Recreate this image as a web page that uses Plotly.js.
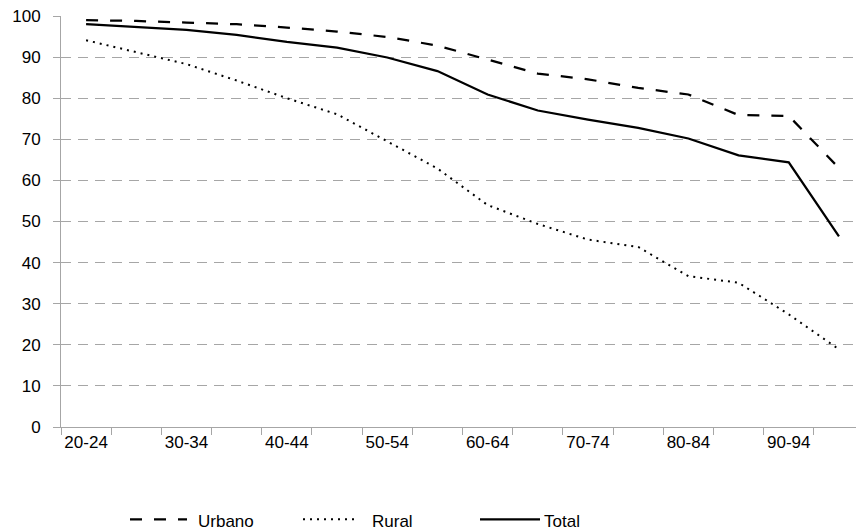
<!DOCTYPE html>
<html>
<head>
<meta charset="utf-8">
<script src="https://cdn.plot.ly/plotly-3.0.1.min.js"></script>
<style>html,body{margin:0;padding:0;background:#fff;}#chart{width:856px;height:531px;}</style>
</head>
<body>
<div id="chart"></div>
<script>
const categories = ["20-24","25-29","30-34","35-39","40-44","45-49","50-54","55-59","60-64","65-69","70-74","75-79","80-84","85-89","90-94","95-99"];
const urbano = [99.0, 98.8, 98.4, 98.0, 97.2, 96.2, 94.9, 92.8, 89.4, 86.0, 84.6, 82.5, 80.9, 75.9, 75.7, 63.0];
const rural  = [94.1, 91.2, 88.3, 84.3, 80.0, 76.1, 69.6, 62.9, 54.0, 49.4, 45.6, 43.8, 36.7, 35.1, 27.4, 18.9];
const total  = [98.05, 97.4, 96.6, 95.4, 93.7, 92.3, 89.9, 86.6, 80.9, 77.0, 74.8, 72.8, 70.2, 66.1, 64.4, 46.4];
const seriesNames = ["Urbano", "Rural", "Total"];
const yTicks = [0,10,20,30,40,50,60,70,80,90,100];

const W = 856, H = 531;
const M = {l: 61, r: 0, t: 16, b: 104.3};
const plotW = W - M.l - M.r, plotH = H - M.t - M.b;
const px = x => (x - M.l) / plotW;
const py = y => (H - M.b - y) / plotH;

const idx = categories.map((_, i) => i);
const shownIdx = idx.filter(i => i % 2 === 0);
const shownText = shownIdx.map(i => categories[i]);

const styles = [
  {color: "#000", width: 2.25, dash: "12px,12px"},
  {color: "#000", width: 2, dash: "2px,5px"},
  {color: "#000", width: 2.25, dash: "solid"}
];
const values = [urbano, rural, total];

const traces = values.map((v, k) => ({
  x: idx, y: v, name: seriesNames[k], type: "scatter", mode: "lines",
  line: styles[k], hoverinfo: "skip", showlegend: false
}));

const fontFam = "Liberation Sans, Arial, sans-serif";
const font = {family: fontFam, size: 17, color: "#000"};
const legendFont = {family: fontFam, size: 17, color: "#000"};

// manual legend (long keys like the original)
const legendKeys = [[130, 187], [303, 358], [480, 540]];
const legendTextX = [196, 370, 542];
const legendY = 519;
const shapes = legendKeys.map((k2, k) => ({
  type: "line", xref: "paper", yref: "paper",
  x0: px(k2[0]), x1: px(k2[1]), y0: py(legendY), y1: py(legendY),
  line: styles[k]
}));
const annotations = legendTextX.map((x0, k) => ({
  xref: "paper", yref: "paper", x: px(x0), y: py(legendY + 2),
  xanchor: "left", yanchor: "middle", text: seriesNames[k], showarrow: false,
  font: legendFont
}));

const layout = {
  width: W, height: H,
  margin: {l: M.l, r: M.r, t: M.t, b: M.b, pad: 0},
  paper_bgcolor: "#fff", plot_bgcolor: "#fff",
  font: font,
  showlegend: false,
  shapes: shapes,
  annotations: annotations,
  xaxis: {
    range: [-0.5, 15.34], showgrid: false, zeroline: false,
    showline: true, linecolor: "#a6a6a6", linewidth: 1,
    tickmode: "array", tickvals: shownIdx, ticktext: shownText,
    ticks: "", ticklabelstandoff: 0,
    minor: {tick0: -0.5, dtick: 1, ticks: "outside", ticklen: 7, tickcolor: "#a6a6a6", showgrid: false},
    fixedrange: true
  },
  yaxis: {
    range: [0, 100], tickmode: "array", tickvals: yTicks,
    showgrid: true, gridcolor: "#a6a6a6", griddash: "10px,7px", gridwidth: 1,
    zeroline: false, showline: true, linecolor: "#a6a6a6", linewidth: 1,
    ticks: "outside", ticklen: 7, tickcolor: "#a6a6a6", ticklabelstandoff: 9,
    fixedrange: true
  }
};

Plotly.newPlot("chart", traces, layout, {displayModeBar: false, staticPlot: true});
</script>
</body>
</html>
